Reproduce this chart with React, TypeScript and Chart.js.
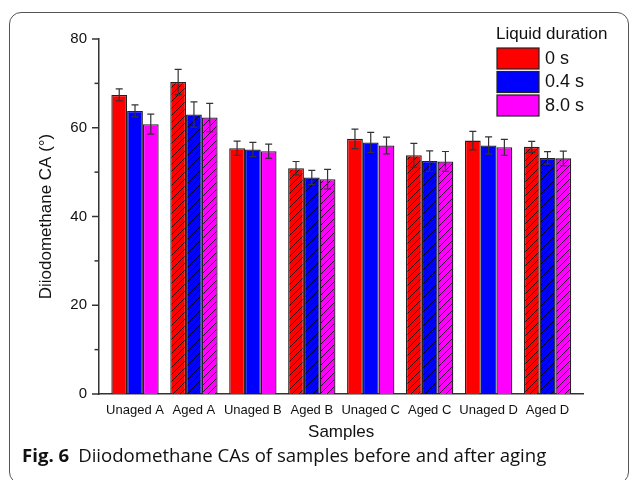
import React, { useEffect, useRef } from 'react';
import { Chart, registerables } from 'chart.js';

Chart.register(...registerables);

const categories = ['Unaged A', 'Aged A', 'Unaged B', 'Aged B', 'Unaged C', 'Aged C', 'Unaged D', 'Aged D'];
const agedFlags = [false, true, false, true, false, true, false, true];
const seriesNames = ['0 s', '0.4 s', '8.0 s'];
const seriesColors = ['#FF0000', '#0000FF', '#FF00FF'];

const values0s = [67.4, 70.3, 55.4, 50.9, 57.5, 53.8, 57.1, 55.7];
const values04s = [63.8, 63.0, 55.1, 48.8, 56.7, 52.5, 56.0, 53.2];
const values8s = [60.8, 62.3, 54.7, 48.4, 56.0, 52.4, 55.6, 53.1];

const errors0s = [1.35, 2.85, 1.6, 1.5, 2.2, 2.7, 2.1, 1.25];
const errors04s = [1.35, 2.85, 1.6, 1.6, 2.25, 2.3, 1.95, 1.4];
const errors8s = [2.25, 3.2, 1.6, 2.2, 1.9, 2.25, 1.8, 1.65];

const yTickValues = [0, 10, 20, 30, 40, 50, 60, 70, 80];
const yLabelled = [0, 20, 40, 60, 80];

const allValues = [values0s, values04s, values8s];
const allErrors = [errors0s, errors04s, errors8s];

const FONT = '"Liberation Sans", Arial, sans-serif';

function makeHatch(color: string): CanvasPattern | string {
  const s = 7;
  const c = document.createElement('canvas');
  c.width = s;
  c.height = s;
  const g = c.getContext('2d');
  if (!g) return color;
  g.fillStyle = color;
  g.fillRect(0, 0, s, s);
  g.strokeStyle = 'rgba(0,0,0,0.9)';
  g.lineWidth = 0.9;
  g.beginPath();
  g.moveTo(0, s);
  g.lineTo(s, 0);
  g.moveTo(-2, 2);
  g.lineTo(2, -2);
  g.moveTo(s - 2, s + 2);
  g.lineTo(s + 2, s - 2);
  g.stroke();
  const p = g.createPattern(c, 'repeat');
  return p || color;
}

const extrasPlugin = {
  id: 'extras',
  afterDatasetsDraw(chart: any) {
    const ctx = chart.ctx;
    const y = chart.scales.y;
    ctx.save();
    ctx.strokeStyle = '#333';
    ctx.lineWidth = 1.2;
    chart.data.datasets.forEach((_ds: any, di: number) => {
      const meta = chart.getDatasetMeta(di);
      meta.data.forEach((bar: any, i: number) => {
        const v = allValues[di][i];
        const e = allErrors[di][i];
        const x = bar.x;
        const t = y.getPixelForValue(v + e);
        const b = y.getPixelForValue(v - e);
        ctx.beginPath();
        ctx.moveTo(x, t);
        ctx.lineTo(x, b);
        ctx.moveTo(x - 3.5, t);
        ctx.lineTo(x + 3.5, t);
        ctx.moveTo(x - 3.5, b);
        ctx.lineTo(x + 3.5, b);
        ctx.stroke();
      });
    });
    ctx.restore();
  },
  afterDraw(chart: any) {
    const ctx = chart.ctx;
    const y = chart.scales.y;
    const left = chart.chartArea.left;
    ctx.save();
    ctx.strokeStyle = '#333';
    ctx.lineWidth = 1.5;
    yTickValues.forEach((v) => {
      const py = y.getPixelForValue(v);
      const len = yLabelled.includes(v) ? 7 : 4.5;
      ctx.beginPath();
      ctx.moveTo(left - len, py);
      ctx.lineTo(left, py);
      ctx.stroke();
    });
    // legend
    ctx.fillStyle = '#111';
    ctx.font = `17px ${FONT}`;
    ctx.textBaseline = 'middle';
    ctx.textAlign = 'left';
    ctx.fillText('Liquid duration', 496, 34);
    seriesNames.forEach((name, i) => {
      const by = 48 + i * 23.5;
      ctx.fillStyle = seriesColors[i];
      ctx.fillRect(497, by, 42, 21);
      ctx.strokeStyle = '#222';
      ctx.lineWidth = 1.2;
      ctx.strokeRect(497, by, 42, 21);
      ctx.fillStyle = '#111';
      ctx.font = `18px ${FONT}`;
      ctx.fillText(name, 545, by + 11);
    });
    ctx.restore();
  },
};

export default function App() {
  const ref = useRef<HTMLCanvasElement | null>(null);

  useEffect(() => {
    if (!ref.current) return;
    const datasets = allValues.map((vals, di) => {
      const hatch = makeHatch(seriesColors[di]);
      return {
        label: seriesNames[di],
        data: vals.map((v, i) => ({ x: i, y: v })),
        backgroundColor: agedFlags.map((a) => (a ? hatch : seriesColors[di])),
        borderColor: '#222',
        borderWidth: 1.3,
        categoryPercentage: 0.803,
        barPercentage: 1,
      };
    });
    const chart = new Chart(ref.current, {
      type: 'bar',
      data: { datasets: datasets as any },
      plugins: [extrasPlugin],
      options: {
        animation: false,
        responsive: false,
        layout: { padding: { left: 0, top: 39, right: 46.7, bottom: 0 } },
        plugins: { legend: { display: false }, tooltip: { enabled: false } },
        scales: {
          x: {
            type: 'linear',
            offset: false,
            min: -0.611,
            max: 7.607,
            grid: { display: false, drawTicks: false },
            border: { display: true, color: '#333', width: 1.5 },
            afterFit: (s: any) => {
              s.height = 86;
            },
            ticks: {
              stepSize: 1,
              autoSkip: false,
              includeBounds: false,
              maxRotation: 0,
              padding: 9,
              color: '#111',
              font: { family: FONT, size: 13 },
              callback: (v: any) => {
                const n = Number(v);
                return Number.isInteger(n) && n >= 0 && n < categories.length ? categories[n] : '';
              },
            },
            title: {
              display: true,
              text: 'Samples',
              color: '#111',
              font: { family: FONT, size: 17 },
              padding: { top: 0, bottom: 37.8 },
            },
          },
          y: {
            min: 0,
            max: 80,
            grid: { display: false, drawTicks: false },
            border: { display: true, color: '#333', width: 1.5 },
            afterFit: (s: any) => {
              s.width = 99;
            },
            ticks: {
              stepSize: 10,
              padding: 12,
              color: '#111',
              font: { family: FONT, size: 15 },
              callback: (v: any) => (Number(v) % 20 === 0 ? String(v) : ''),
            },
            title: {
              display: true,
              text: 'Diiodomethane CA (°)',
              color: '#111',
              font: { family: FONT, size: 17 },
              padding: { top: 36.5, bottom: 0 },
            },
          },
        },
      } as any,
    });
    return () => chart.destroy();
  }, []);

  return (
    <div style={{ position: 'fixed', left: 0, top: 0, width: 630, height: 480, background: '#fff', overflow: 'hidden' }}>
      <div
        style={{
          position: 'absolute',
          left: 9,
          top: 12,
          width: 620,
          height: 472,
          border: '1.3px solid #555',
          borderRadius: 12,
          boxSizing: 'border-box',
        }}
      />
      <canvas ref={ref} width={630} height={480} style={{ position: 'absolute', left: 0, top: 0, width: 630, height: 480 }} />
      <div
        style={{
          position: 'absolute',
          left: 22,
          top: 442,
          fontFamily: '"Open Sans", "Noto Sans", sans-serif',
          fontSize: 18.6,
          color: '#111',
          whiteSpace: 'nowrap',
          lineHeight: '26px',
        }}
      >
        <span style={{ fontWeight: 700, marginRight: 9 }}>Fig. 6</span>
        <span>Diiodomethane CAs of samples before and after aging</span>
      </div>
    </div>
  );
}
